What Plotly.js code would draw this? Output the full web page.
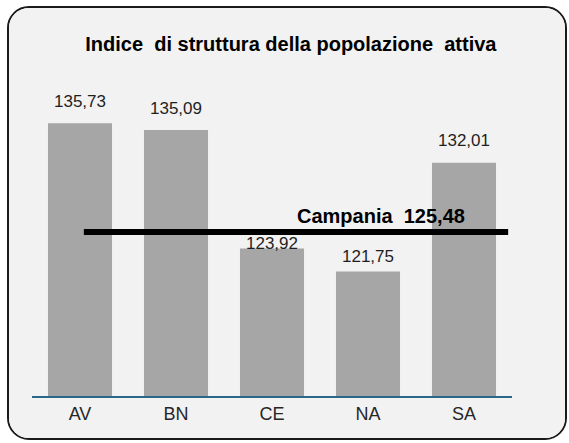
<!DOCTYPE html>
<html>
<head>
<meta charset="utf-8">
<script src="https://cdn.plot.ly/plotly-3.0.1.min.js"></script>
<style>
  html, body { margin: 0; padding: 0; background: #ffffff; }
  #chart {
    position: absolute;
    left: 7px;
    top: 6px;
    width: 556px;
    height: 430px;
    border: 2px solid #1a1a1a;
    border-radius: 22px;
    overflow: hidden;
    background: #f2f2f2;
  }
</style>
</head>
<body>
<div id="chart"></div>
<script>
// province e indice di struttura della popolazione attiva
const province = ['AV', 'BN', 'CE', 'NA', 'SA'];
const indice = [135.73, 135.09, 123.92, 121.75, 132.01];
const campania = 125.48;

// Excel places the labels a bit irregularly
const labelShift = [10, 10, -7, 3, 11];

function fmt(v) {
    return v.toFixed(2).replace('.', ',');
}

function drawChart() {
    const bars = {
        x: province,
        y: indice,
        type: 'bar',
        marker: {color: '#a6a6a6'},
        hoverinfo: 'skip'
    };

    const labels = province.map((p, i) => ({
        x: p,
        y: indice[i],
        xref: 'x',
        yref: 'y',
        text: fmt(indice[i]),
        showarrow: false,
        xanchor: 'center',
        yanchor: 'bottom',
        yshift: labelShift[i],
        font: {family: 'Liberation Sans, Arial, sans-serif', size: 17, color: '#1f1f1f'}
    }));

    labels.push({
        x: 0.727,
        y: campania,
        xref: 'paper',
        yref: 'y',
        text: '<b>Campania\u00a0 ' + fmt(campania) + '</b>',
        showarrow: false,
        xanchor: 'center',
        yanchor: 'bottom',
        yshift: 3,
        font: {family: 'Liberation Sans, Arial, sans-serif', size: 20, color: '#000000'}
    });

    Plotly.newPlot('chart', [bars], {
        width: 556,
        height: 430,
        margin: {l: 23, r: 53, t: 70, b: 42},
        paper_bgcolor: '#f2f2f2',
        plot_bgcolor: '#f2f2f2',
        bargap: 0.333,
        showlegend: false,
        title: {
            text: '<b>Indice\u00a0 di struttura della popolazione\u00a0 attiva</b>',
            x: 0.507,
            xref: 'container',
            xanchor: 'center',
            y: 0.916,
            yref: 'container',
            yanchor: 'middle',
            font: {family: 'Liberation Sans, Arial, sans-serif', size: 20, color: '#000000'}
        },
        xaxis: {
            showline: true,
            linecolor: '#2a6889',
            linewidth: 2,
            ticks: '',
            showgrid: false,
            zeroline: false,
            tickfont: {family: 'Liberation Sans, Arial, sans-serif', size: 18, color: '#262626'},
            fixedrange: true
        },
        yaxis: {
            visible: false,
            range: [110, 140],
            fixedrange: true
        },
        shapes: [{
            type: 'line',
            xref: 'paper',
            yref: 'y',
            x0: 0.108,
            x1: 0.992,
            y0: campania,
            y1: campania,
            line: {color: '#000000', width: 6}
        }],
        annotations: labels
    }, {displayModeBar: false, staticPlot: true});
}

document.addEventListener('DOMContentLoaded', drawChart);
</script>
</body>
</html>
